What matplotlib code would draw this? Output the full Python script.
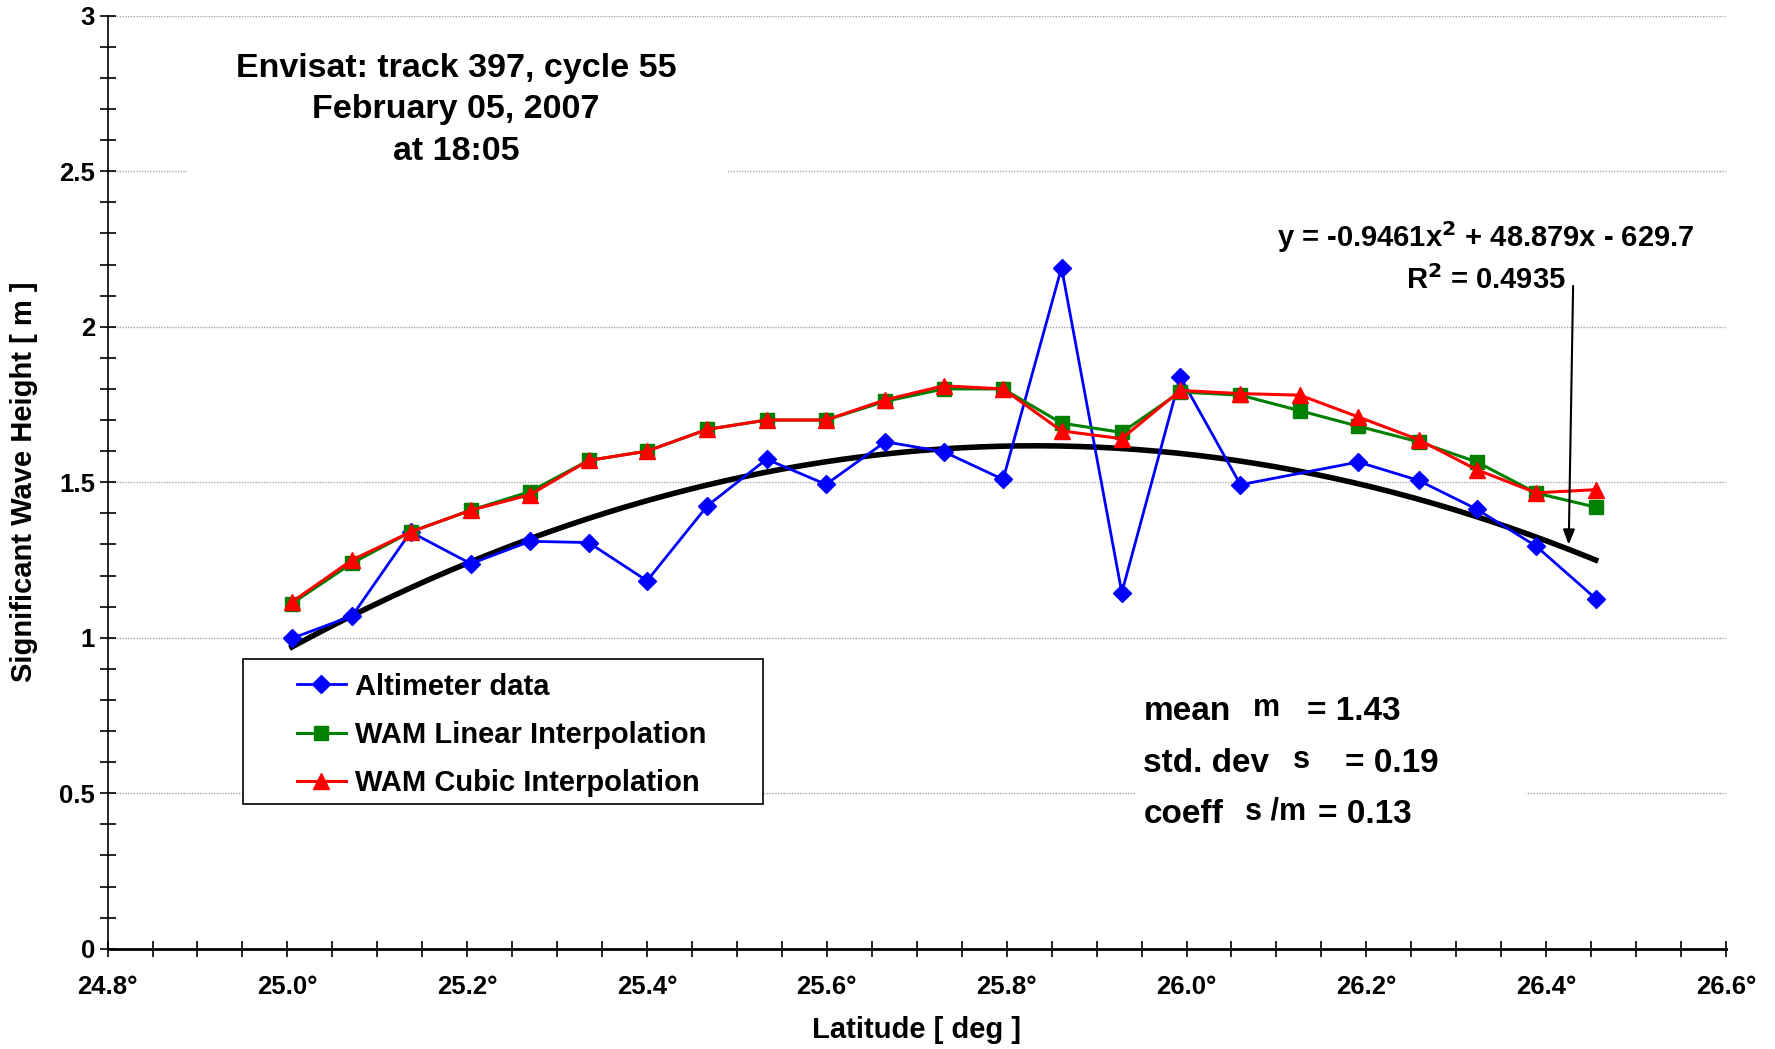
import numpy as np
import matplotlib.pyplot as plt
from matplotlib.patches import Rectangle

plt.rcParams['font.family'] = ['Liberation Sans', 'DejaVu Sans']
plt.rcParams['font.weight'] = 'bold'

# --- Daten ---
lat_wam = [25.005, 25.072, 25.137, 25.204, 25.270, 25.335, 25.400, 25.467,
           25.533, 25.599, 25.665, 25.730, 25.796, 25.861, 25.928, 25.993,
           26.060, 26.126, 26.191, 26.258, 26.323, 26.389, 26.455]
wam_linear = [1.11, 1.24, 1.34, 1.41, 1.47, 1.57, 1.60, 1.67,
              1.70, 1.70, 1.76, 1.80, 1.80, 1.69, 1.66, 1.79,
              1.78, 1.73, 1.68, 1.63, 1.565, 1.465, 1.42]
wam_cubic = [1.115, 1.25, 1.34, 1.41, 1.46, 1.57, 1.60, 1.67,
             1.70, 1.70, 1.765, 1.81, 1.80, 1.665, 1.64, 1.795,
             1.785, 1.78, 1.71, 1.637, 1.54, 1.466, 1.476]

# Altimeter: Punkt bei 26.126 fehlt
lat_alt = [25.005, 25.072, 25.137, 25.204, 25.270, 25.335, 25.400, 25.467,
           25.533, 25.599, 25.665, 25.730, 25.796, 25.861, 25.928, 25.993,
           26.060, 26.191, 26.258, 26.323, 26.389, 26.455]
altimeter = [0.998, 1.07, 1.34, 1.238, 1.31, 1.306, 1.183, 1.424,
             1.574, 1.493, 1.63, 1.598, 1.509, 2.19, 1.145, 1.839,
             1.492, 1.565, 1.506, 1.413, 1.294, 1.126]

# Trendlinie (Polynom 2. Ordnung aus Excel)
fit_coef = [-0.9461, 48.879, -629.7]
fit_text = "y = -0.9461x$^2$ + 48.879x - 629.7\nR$^2$ = 0.4935"

title_lines = ["Envisat: track 397, cycle 55", "February 05, 2007", "at 18:05"]
x_ticks = [24.8, 25.0, 25.2, 25.4, 25.6, 25.8, 26.0, 26.2, 26.4, 26.6]
y_ticks = [0, 0.5, 1, 1.5, 2, 2.5, 3]

fig = plt.figure(figsize=(17.75, 10.49), dpi=100)
ax = fig.add_axes([0.0606, 0.0956, 0.9118, 0.8894])

ax.set_xlim(24.8, 26.6)
ax.set_ylim(0, 3)
ax.set_xticks(x_ticks)
ax.set_xticklabels([f"{t:.1f}°" for t in x_ticks])
ax.set_xticks(np.arange(24.8, 26.6001, 0.05), minor=True)
ax.set_yticks(y_ticks)
ax.set_yticklabels(["0", "0.5", "1", "1.5", "2", "2.5", "3"])
ax.set_yticks(np.arange(0, 3.001, 0.1), minor=True)
ax.tick_params(which='both', direction='inout', length=12, width=1.2, color='black')
ax.tick_params(axis='x', labelsize=18.5, pad=13)
ax.tick_params(axis='y', labelsize=18.5, pad=3)
for lbl in ax.get_xticklabels() + ax.get_yticklabels():
    lbl.set_fontweight('bold')

ax.spines['top'].set_visible(False)
ax.spines['right'].set_visible(False)
ax.spines['bottom'].set_linewidth(2)
ax.spines['left'].set_linewidth(1.2)
ax.yaxis.grid(True, which='major', color='#a8a8a8', linewidth=1.0, linestyle=(0, (1, 1)))
ax.set_axisbelow(True)

ax.set_xlabel('Latitude [ deg ]', fontsize=21, fontweight='bold', labelpad=12)
ax.set_ylabel('Significant Wave Height [ m ]', fontsize=21, fontweight='bold')
ax.yaxis.set_label_coords(-0.043, 0.5)

# weisse Hintergrundflaechen der Textboxen
ax.add_patch(Rectangle((0.049, 0.824), 0.334, 0.15, transform=ax.transAxes,
                       facecolor='white', edgecolor='none', zorder=1.5))
ax.add_patch(Rectangle((0.635, 0.122), 0.2415, 0.166, transform=ax.transAxes,
                       facecolor='white', edgecolor='none', zorder=1.5))
# Legendenrahmen
ax.add_patch(Rectangle((0.0839, 0.1554), 0.3211, 0.1553, transform=ax.transAxes,
                       facecolor='white', edgecolor='black', linewidth=1.2, zorder=6.5))

xf = np.linspace(lat_alt[0], lat_alt[-1], 200)
ax.plot(xf, np.polyval(fit_coef, xf), color='black', linewidth=4, zorder=3)

ax.plot(lat_alt, altimeter, color='#0000ff', linewidth=2, marker='D', markersize=9.5,
        label='Altimeter data', zorder=4)
ax.plot(lat_wam, wam_linear, color='#008000', linewidth=2.2, marker='s', markersize=10,
        label='WAM Linear Interpolation', zorder=5)
ax.plot(lat_wam, wam_cubic, color='#ff0000', linewidth=2.2, marker='^', markersize=11,
        label='WAM Cubic Interpolation', zorder=6)

leg = ax.legend(loc='upper left', bbox_to_anchor=(0.1168, 0.2960),
                prop={'weight': 'bold', 'size': 21}, frameon=False,
                borderpad=0, labelspacing=0.7, handlelength=1.7,
                handletextpad=0.3, borderaxespad=0)
leg.set_zorder(7)

ax.text(25.1875, 2.698, "\n".join(title_lines), ha='center', va='center',
        fontsize=24.5, fontweight='bold', linespacing=1.44, zorder=7)

ax.text(26.333, 2.224, fit_text, ha='center', va='center', fontsize=21,
        fontweight='bold', linespacing=1.45, zorder=7)
ax.annotate('', xy=(26.425, 1.29), xytext=(26.43, 2.14),
            arrowprops=dict(arrowstyle='-|>,head_length=0.9,head_width=0.35',
                            color='black', linewidth=1.5), zorder=7)

# Statistik (Symbolschrift fehlte im Original -> m / s)
stat_rows = [("mean", "m", "= 1.43", 0.736),
             ("std. dev", "s", "= 0.19", 0.569),
             ("coeff", "s /m", "= 0.13", 0.405)]
sym_x = [26.074, 26.118, 26.065]
eq_x = [26.134, 26.176, 26.146]
for (word, sym, val, yv), sx, ex in zip(stat_rows, sym_x, eq_x):
    ax.text(25.952, yv, word, ha='left', va='baseline', fontsize=24, fontweight='bold', zorder=7)
    ax.text(sx, yv + 0.012, sym, ha='left', va='baseline', fontsize=22, fontweight='bold', zorder=7)
    ax.text(ex, yv, val, ha='left', va='baseline', fontsize=24, fontweight='bold', zorder=7)

fig.savefig('out.png', dpi=100)
